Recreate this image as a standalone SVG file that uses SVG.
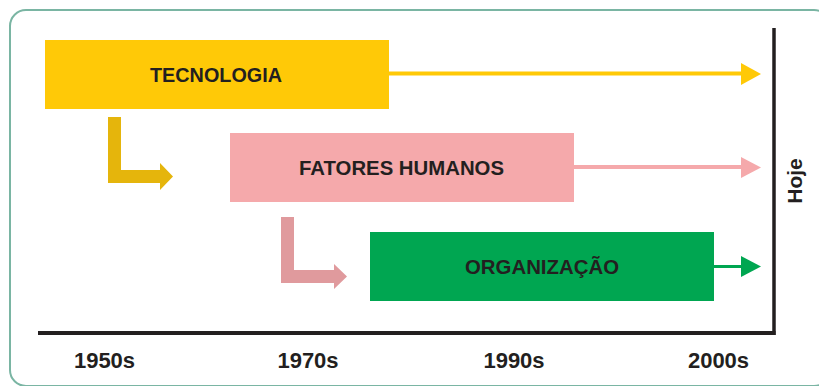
<svg xmlns="http://www.w3.org/2000/svg" width="819" height="386" viewBox="0 0 819 386">
<style>
.lbl{font-family:"Liberation Sans",Arial,sans-serif;font-weight:bold;fill:#231F20;text-anchor:middle}
.box{font-size:21px}
.yr{font-size:22px}
.ax{stroke:#231F20;fill:none}
</style>
<rect x="0" y="0" width="819" height="386" fill="#ffffff"/>
<rect x="10" y="10" width="820" height="376" rx="16" ry="16" fill="none" stroke="#7AB5A3" stroke-width="2"/>
<g id="connectors">
  <line x1="389" y1="73.5" x2="743" y2="73.5" stroke="#FFC907" stroke-width="4"/>
  <polygon points="741,63 761,74 741,85" fill="#FFC907"/>
  <line x1="574" y1="167" x2="743" y2="167" stroke="#F5A9AB" stroke-width="4"/>
  <polygon points="741,157 761,167.5 741,178" fill="#F5A9AB"/>
  <line x1="714" y1="266.5" x2="743" y2="266.5" stroke="#00A651" stroke-width="3"/>
  <polygon points="741,256 761,266.5 741,277" fill="#00A651"/>
  <polygon points="108,117 121,117 121,170 160,170 160,163 173,176.5 160,190 160,183 108,183" fill="#E5B50C"/>
  <polygon points="281,217 294,217 294,270 334,270 334,264 347,276.5 334,289 334,283 281,283" fill="#E09A9D"/>
</g>
<g id="axes">
  <line class="ax" x1="774" y1="28" x2="774" y2="335" stroke-width="3.5"/>
  <line class="ax" x1="38" y1="333" x2="775.5" y2="333" stroke-width="4"/>
</g>
<g id="tecnologia">
  <rect x="45" y="40" width="344" height="69" fill="#FFC907"/>
  <text class="lbl box" x="216" y="82" textLength="132" lengthAdjust="spacingAndGlyphs">TECNOLOGIA</text>
</g>
<g id="fatores-humanos">
  <rect x="230" y="133" width="344" height="69" fill="#F5A9AB"/>
  <text class="lbl box" x="401.5" y="175" textLength="205" lengthAdjust="spacingAndGlyphs">FATORES HUMANOS</text>
</g>
<g id="organizacao">
  <rect x="370" y="232" width="344" height="69" fill="#00A651"/>
  <text class="lbl box" x="542" y="274" textLength="154" lengthAdjust="spacingAndGlyphs">ORGANIZAÇÃO</text>
</g>
<g id="hoje">
  <text class="lbl" style="font-size:21px" transform="translate(802,181) rotate(-90)" x="0" y="0">Hoje</text>
</g>
<g id="years">
  <text class="lbl yr" x="104.5" y="368">1950s</text>
  <text class="lbl yr" x="308" y="368">1970s</text>
  <text class="lbl yr" x="514" y="368">1990s</text>
  <text class="lbl yr" x="718.5" y="368">2000s</text>
</g>
</svg>
